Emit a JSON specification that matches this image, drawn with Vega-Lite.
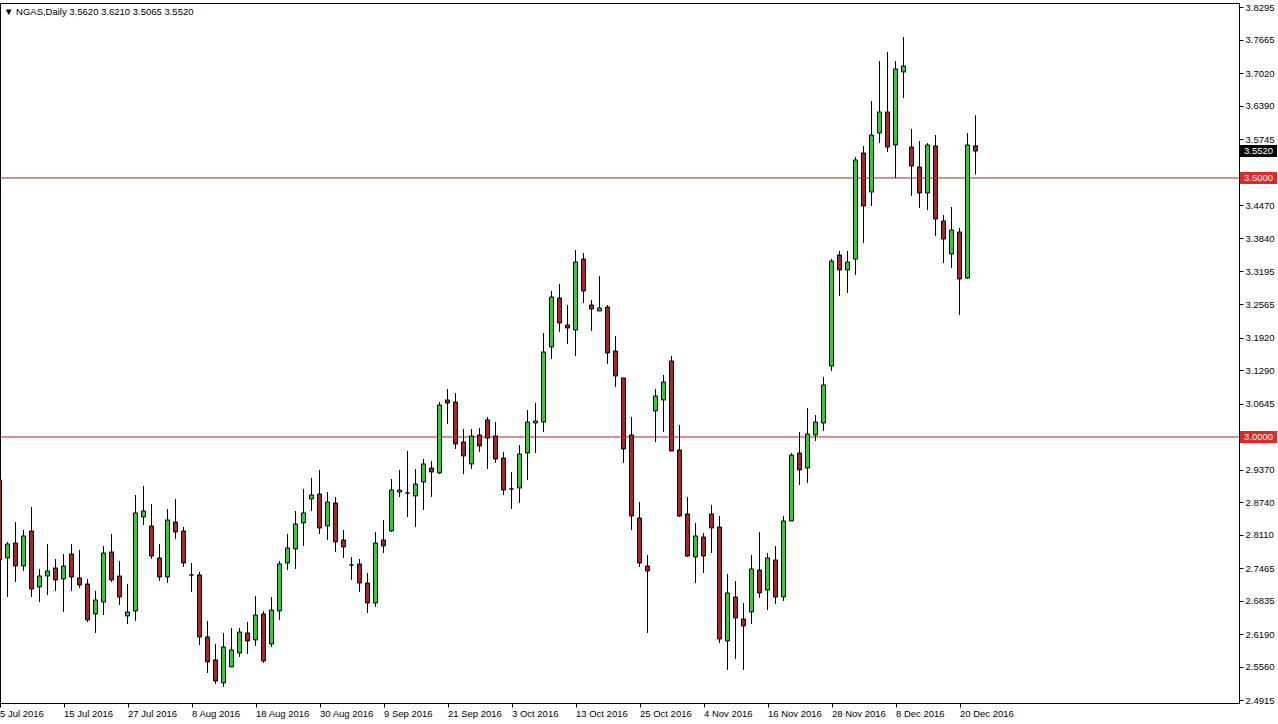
{
"$schema": "https://vega.github.io/schema/vega-lite/v6.json",
"width": 1239, "height": 700,
"autosize": {"type": "none"},
"padding": {"left": 0, "top": 3, "right": 39, "bottom": 21},
"background": "#ffffff",
"config": {"view": {"stroke": "#000000", "strokeWidth": 1}, "font": "Liberation Sans",
  "axis": {"tickColor": "#000000", "domainColor": "#000000", "labelColor": "#000000", "labelFont": "Liberation Sans", "labelFontSize": 9.5, "labelOverlap": false, "labelBound": false, "labelFlush": false, "grid": false, "tickSize": 4, "labelPadding": 2, "zindex": 0}},
"title": {"text": "▼ NGAS,Daily  3.5620 3.6210 3.5065 3.5520", "anchor": "start", "frame": "group", "orient": "top", "offset": -14, "dx": 4, "font": "Liberation Sans", "fontSize": 9.5, "fontWeight": "normal", "color": "#000000"},
"datasets": {
"candles": [
{"date":"2016-07-05","open":2.9170,"high":2.9208,"low":2.7509,"close":2.7625},
{"date":"2016-07-06","open":2.7664,"high":2.7973,"low":2.6911,"close":2.7934},
{"date":"2016-07-07","open":2.7953,"high":2.8359,"low":2.7200,"close":2.7509},
{"date":"2016-07-08","open":2.7509,"high":2.8204,"low":2.7413,"close":2.8089},
{"date":"2016-07-11","open":2.8185,"high":2.8648,"low":2.6911,"close":2.7065},
{"date":"2016-07-12","open":2.7104,"high":2.7452,"low":2.6814,"close":2.7316},
{"date":"2016-07-13","open":2.7316,"high":2.7934,"low":2.6950,"close":2.7413},
{"date":"2016-07-14","open":2.7471,"high":2.7645,"low":2.7027,"close":2.7239},
{"date":"2016-07-15","open":2.7258,"high":2.7741,"low":2.6621,"close":2.7509},
{"date":"2016-07-18","open":2.7741,"high":2.7934,"low":2.7027,"close":2.7297},
{"date":"2016-07-19","open":2.7278,"high":2.7818,"low":2.7085,"close":2.7143},
{"date":"2016-07-20","open":2.7162,"high":2.7258,"low":2.6428,"close":2.6467},
{"date":"2016-07-21","open":2.6583,"high":2.7027,"low":2.6216,"close":2.6853},
{"date":"2016-07-22","open":2.6814,"high":2.7896,"low":2.6563,"close":2.7760},
{"date":"2016-07-25","open":2.7780,"high":2.8127,"low":2.7200,"close":2.7239},
{"date":"2016-07-26","open":2.7316,"high":2.7606,"low":2.6757,"close":2.6911},
{"date":"2016-07-27","open":2.6544,"high":2.7162,"low":2.6390,"close":2.6621},
{"date":"2016-07-28","open":2.6641,"high":2.8880,"low":2.6448,"close":2.8533},
{"date":"2016-07-29","open":2.8455,"high":2.9054,"low":2.8301,"close":2.8571},
{"date":"2016-08-01","open":2.8282,"high":2.8706,"low":2.7645,"close":2.7702},
{"date":"2016-08-02","open":2.7664,"high":2.7934,"low":2.7220,"close":2.7297},
{"date":"2016-08-03","open":2.7297,"high":2.8610,"low":2.7181,"close":2.8397},
{"date":"2016-08-04","open":2.8359,"high":2.8803,"low":2.8031,"close":2.8166},
{"date":"2016-08-05","open":2.8185,"high":2.8262,"low":2.7490,"close":2.7567},
{"date":"2016-08-08","open":2.7336,"high":2.7567,"low":2.7007,"close":2.7336},
{"date":"2016-08-09","open":2.7336,"high":2.7394,"low":2.5984,"close":2.6139},
{"date":"2016-08-10","open":2.6139,"high":2.6448,"low":2.5444,"close":2.5656},
{"date":"2016-08-11","open":2.5695,"high":2.6004,"low":2.5231,"close":2.5289},
{"date":"2016-08-12","open":2.5251,"high":2.6216,"low":2.5174,"close":2.5946},
{"date":"2016-08-15","open":2.5560,"high":2.6313,"low":2.5560,"close":2.5888},
{"date":"2016-08-16","open":2.5830,"high":2.6313,"low":2.5753,"close":2.6235},
{"date":"2016-08-17","open":2.6216,"high":2.6428,"low":2.5810,"close":2.6061},
{"date":"2016-08-18","open":2.6081,"high":2.6930,"low":2.5965,"close":2.6563},
{"date":"2016-08-19","open":2.6583,"high":2.6641,"low":2.5637,"close":2.5675},
{"date":"2016-08-22","open":2.6004,"high":2.6911,"low":2.5946,"close":2.6660},
{"date":"2016-08-23","open":2.6641,"high":2.7606,"low":2.6467,"close":2.7548},
{"date":"2016-08-24","open":2.7567,"high":2.8127,"low":2.7432,"close":2.7857},
{"date":"2016-08-25","open":2.7838,"high":2.8571,"low":2.7452,"close":2.8320},
{"date":"2016-08-26","open":2.8340,"high":2.8996,"low":2.7896,"close":2.8533},
{"date":"2016-08-29","open":2.8803,"high":2.9208,"low":2.8571,"close":2.8880},
{"date":"2016-08-30","open":2.8899,"high":2.9363,"low":2.8127,"close":2.8243},
{"date":"2016-08-31","open":2.8282,"high":2.8938,"low":2.8011,"close":2.8745},
{"date":"2016-09-01","open":2.8726,"high":2.8841,"low":2.7780,"close":2.7973},
{"date":"2016-09-02","open":2.8011,"high":2.8204,"low":2.7664,"close":2.7876},
{"date":"2016-09-05","open":2.7529,"high":2.7683,"low":2.7239,"close":2.7529},
{"date":"2016-09-06","open":2.7548,"high":2.7645,"low":2.7007,"close":2.7181},
{"date":"2016-09-07","open":2.7181,"high":2.7374,"low":2.6602,"close":2.6795},
{"date":"2016-09-08","open":2.6795,"high":2.8166,"low":2.6718,"close":2.7953},
{"date":"2016-09-09","open":2.8011,"high":2.8397,"low":2.7760,"close":2.7896},
{"date":"2016-09-12","open":2.8185,"high":2.9189,"low":2.8166,"close":2.8976},
{"date":"2016-09-13","open":2.8938,"high":2.9363,"low":2.8841,"close":2.8976},
{"date":"2016-09-14","open":2.8919,"high":2.9729,"low":2.8455,"close":2.8919},
{"date":"2016-09-15","open":2.8861,"high":2.9382,"low":2.8262,"close":2.9092},
{"date":"2016-09-16","open":2.9131,"high":2.9575,"low":2.8590,"close":2.9479},
{"date":"2016-09-19","open":2.9401,"high":2.9536,"low":2.8841,"close":2.9324},
{"date":"2016-09-20","open":2.9305,"high":3.0675,"low":2.9285,"close":3.0618},
{"date":"2016-09-21","open":3.0714,"high":3.0926,"low":3.0251,"close":3.0656},
{"date":"2016-09-22","open":3.0675,"high":3.0849,"low":2.9768,"close":2.9865},
{"date":"2016-09-23","open":2.9903,"high":3.0154,"low":2.9285,"close":2.9633},
{"date":"2016-09-26","open":2.9479,"high":3.0154,"low":2.9382,"close":3.0019},
{"date":"2016-09-27","open":3.0038,"high":3.0174,"low":2.9710,"close":2.9826},
{"date":"2016-09-28","open":3.0328,"high":3.0386,"low":2.9382,"close":2.9980},
{"date":"2016-09-29","open":3.0019,"high":3.0289,"low":2.9498,"close":2.9575},
{"date":"2016-09-30","open":2.9594,"high":2.9710,"low":2.8880,"close":2.8976},
{"date":"2016-10-03","open":2.8996,"high":2.9324,"low":2.8610,"close":2.8996},
{"date":"2016-10-04","open":2.9015,"high":2.9845,"low":2.8726,"close":2.9672},
{"date":"2016-10-05","open":2.9691,"high":3.0521,"low":2.9170,"close":3.0289},
{"date":"2016-10-06","open":3.0270,"high":3.0656,"low":2.9691,"close":3.0309},
{"date":"2016-10-07","open":3.0289,"high":3.2007,"low":3.0096,"close":3.1641},
{"date":"2016-10-10","open":3.1737,"high":3.2818,"low":3.1506,"close":3.2702},
{"date":"2016-10-11","open":3.2683,"high":3.2953,"low":3.2027,"close":3.2201},
{"date":"2016-10-12","open":3.2162,"high":3.2548,"low":3.1795,"close":3.2104},
{"date":"2016-10-13","open":3.2065,"high":3.3610,"low":3.1563,"close":3.3378},
{"date":"2016-10-14","open":3.3436,"high":3.3552,"low":3.2587,"close":3.2818},
{"date":"2016-10-17","open":3.2548,"high":3.2645,"low":3.2046,"close":3.2471},
{"date":"2016-10-18","open":3.2432,"high":3.3108,"low":3.2432,"close":3.2490},
{"date":"2016-10-19","open":3.2509,"high":3.2548,"low":3.1409,"close":3.1621},
{"date":"2016-10-20","open":3.1660,"high":3.1950,"low":3.0965,"close":3.1177},
{"date":"2016-10-21","open":3.1139,"high":3.1139,"low":2.9498,"close":2.9768},
{"date":"2016-10-24","open":3.0038,"high":3.0386,"low":2.8204,"close":2.8475},
{"date":"2016-10-25","open":2.8436,"high":2.8745,"low":2.7490,"close":2.7567},
{"date":"2016-10-26","open":2.7509,"high":2.7722,"low":2.6216,"close":2.7413},
{"date":"2016-10-27","open":3.0502,"high":3.0926,"low":2.9903,"close":3.0791},
{"date":"2016-10-28","open":3.0714,"high":3.1197,"low":3.0096,"close":3.1061},
{"date":"2016-10-31","open":3.1467,"high":3.1563,"low":2.9729,"close":2.9729},
{"date":"2016-11-01","open":2.9749,"high":3.0231,"low":2.8455,"close":2.8475},
{"date":"2016-11-02","open":2.8513,"high":2.8841,"low":2.7683,"close":2.7702},
{"date":"2016-11-03","open":2.7683,"high":2.8340,"low":2.7181,"close":2.8089},
{"date":"2016-11-04","open":2.8069,"high":2.8146,"low":2.7374,"close":2.7702},
{"date":"2016-11-07","open":2.8513,"high":2.8687,"low":2.7760,"close":2.8243},
{"date":"2016-11-08","open":2.8262,"high":2.8475,"low":2.6023,"close":2.6100},
{"date":"2016-11-09","open":2.6061,"high":2.7355,"low":2.5502,"close":2.6988},
{"date":"2016-11-10","open":2.6911,"high":2.7220,"low":2.5714,"close":2.6506},
{"date":"2016-11-11","open":2.6486,"high":2.6795,"low":2.5502,"close":2.6351},
{"date":"2016-11-14","open":2.6621,"high":2.7722,"low":2.6390,"close":2.7452},
{"date":"2016-11-15","open":2.7432,"high":2.8166,"low":2.6892,"close":2.6988},
{"date":"2016-11-16","open":2.7046,"high":2.7760,"low":2.6660,"close":2.7664},
{"date":"2016-11-17","open":2.7625,"high":2.7896,"low":2.6776,"close":2.6911},
{"date":"2016-11-18","open":2.6911,"high":2.8475,"low":2.6834,"close":2.8378},
{"date":"2016-11-21","open":2.8378,"high":2.9691,"low":2.8378,"close":2.9652},
{"date":"2016-11-22","open":2.9691,"high":3.0096,"low":2.9073,"close":2.9363},
{"date":"2016-11-23","open":2.9401,"high":3.0560,"low":2.9112,"close":3.0058},
{"date":"2016-11-24","open":3.0038,"high":3.0424,"low":2.9923,"close":3.0289},
{"date":"2016-11-25","open":3.0270,"high":3.1158,"low":3.0116,"close":3.1004},
{"date":"2016-11-28","open":3.1370,"high":3.3436,"low":3.1274,"close":3.3397},
{"date":"2016-11-29","open":3.3513,"high":3.3590,"low":3.2722,"close":3.3224},
{"date":"2016-11-30","open":3.3224,"high":3.3590,"low":3.2780,"close":3.3378},
{"date":"2016-12-01","open":3.3436,"high":3.5405,"low":3.3127,"close":3.5347},
{"date":"2016-12-02","open":3.5482,"high":3.5618,"low":3.3745,"close":3.4459},
{"date":"2016-12-05","open":3.4729,"high":3.6486,"low":3.4459,"close":3.5830},
{"date":"2016-12-06","open":3.5868,"high":3.7258,"low":3.5675,"close":3.6274},
{"date":"2016-12-07","open":3.6274,"high":3.7432,"low":3.5502,"close":3.5598},
{"date":"2016-12-08","open":3.5637,"high":3.7258,"low":3.5000,"close":3.7104},
{"date":"2016-12-09","open":3.7046,"high":3.7722,"low":3.6544,"close":3.7162},
{"date":"2016-12-12","open":3.5598,"high":3.5946,"low":3.4652,"close":3.5231},
{"date":"2016-12-13","open":3.5212,"high":3.5714,"low":3.4421,"close":3.4710},
{"date":"2016-12-14","open":3.4710,"high":3.5675,"low":3.4382,"close":3.5637},
{"date":"2016-12-15","open":3.5618,"high":3.5830,"low":3.3880,"close":3.4208},
{"date":"2016-12-16","open":3.4170,"high":3.4285,"low":3.3359,"close":3.3822},
{"date":"2016-12-19","open":3.3532,"high":3.4440,"low":3.3262,"close":3.3996},
{"date":"2016-12-20","open":3.3957,"high":3.4034,"low":3.2355,"close":3.3050},
{"date":"2016-12-21","open":3.3069,"high":3.5868,"low":3.3050,"close":3.5637},
{"date":"2016-12-22","open":3.5620,"high":3.6210,"low":3.5065,"close":3.5520}
],
"levels": [{"level": 3.5}, {"level": 3.0}],
"tags": [{"price": 3.5520, "kind": "bid"}, {"price": 3.5000, "kind": "line"}, {"price": 3.0000, "kind": "line"}]
},
"layer": [
{"data": {"name": "levels"},
 "mark": {"type": "rule", "color": "#B22222", "strokeWidth": 1},
 "encoding": {"y": {"field": "level", "type": "quantitative", "scale": {"domain": [2.4864, 3.8378], "nice": false, "zero": false},
   "axis": {"orient": "right", "values": [3.8295,3.7665,3.7020,3.6390,3.5745,3.4470,3.3840,3.3195,3.2565,3.1920,3.1290,3.0645,2.9370,2.8740,2.8110,2.7465,2.6835,2.6190,2.5560,2.4915], "format": ".4f", "title": null, "labelAlign": "left", "labelBaseline": "middle"}}}},
{"data": {"name": "candles"},
 "mark": {"type": "rule", "color": "#000000", "strokeWidth": 1},
 "encoding": {
  "x": {"field": "date", "type": "ordinal", "scale": {"type": "point", "range": [-0.5, 975.5], "padding": 0},
   "axis": {"values": ["2016-07-05","2016-07-15","2016-07-27","2016-08-08","2016-08-18","2016-08-30","2016-09-09","2016-09-21","2016-10-03","2016-10-13","2016-10-25","2016-11-04","2016-11-16","2016-11-28","2016-12-08","2016-12-20"],
    "labelExpr": "utcFormat(toDate(datum.value), '%-d %b %Y')", "title": null, "labelAngle": 0, "labelAlign": "left", "labelOffset": 0, "labelPadding": 1}},
  "y": {"field": "low", "type": "quantitative", "scale": {"domain": [2.4864, 3.8378], "nice": false, "zero": false},
   "axis": {"orient": "right", "values": [3.8295,3.7665,3.7020,3.6390,3.5745,3.4470,3.3840,3.3195,3.2565,3.1920,3.1290,3.0645,2.9370,2.8740,2.8110,2.7465,2.6835,2.6190,2.5560,2.4915], "format": ".4f", "title": null, "labelAlign": "left", "labelBaseline": "middle"}},
  "y2": {"field": "high"}}},
{"data": {"name": "candles"},
 "mark": {"type": "bar", "width": 4, "stroke": "#000000", "strokeWidth": 1},
 "encoding": {
  "x": {"field": "date", "type": "ordinal", "scale": {"type": "point", "range": [-0.5, 975.5], "padding": 0},
   "axis": {"values": ["2016-07-05","2016-07-15","2016-07-27","2016-08-08","2016-08-18","2016-08-30","2016-09-09","2016-09-21","2016-10-03","2016-10-13","2016-10-25","2016-11-04","2016-11-16","2016-11-28","2016-12-08","2016-12-20"],
    "labelExpr": "utcFormat(toDate(datum.value), '%-d %b %Y')", "title": null, "labelAngle": 0, "labelAlign": "left", "labelOffset": 0, "labelPadding": 1}},
  "y": {"field": "open", "type": "quantitative", "scale": {"domain": [2.4864, 3.8378], "nice": false, "zero": false},
   "axis": {"orient": "right", "values": [3.8295,3.7665,3.7020,3.6390,3.5745,3.4470,3.3840,3.3195,3.2565,3.1920,3.1290,3.0645,2.9370,2.8740,2.8110,2.7465,2.6835,2.6190,2.5560,2.4915], "format": ".4f", "title": null, "labelAlign": "left", "labelBaseline": "middle"}},
  "y2": {"field": "close"},
  "fill": {"condition": {"test": "datum.close >= datum.open", "value": "#32CD32"}, "value": "#B22222"}}},
{"data": {"name": "tags"},
 "mark": {"type": "rect", "xOffset": 1, "x2Offset": 38, "yOffset": -6, "y2Offset": 6},
 "encoding": {
  "x": {"value": "width"}, "x2": {"value": "width"},
  "y": {"field": "price", "type": "quantitative", "scale": {"domain": [2.4864, 3.8378], "nice": false, "zero": false},
   "axis": {"orient": "right", "values": [3.8295,3.7665,3.7020,3.6390,3.5745,3.4470,3.3840,3.3195,3.2565,3.1920,3.1290,3.0645,2.9370,2.8740,2.8110,2.7465,2.6835,2.6190,2.5560,2.4915], "format": ".4f", "title": null, "labelAlign": "left", "labelBaseline": "middle"}},
  "y2": {"field": "price"},
  "fill": {"field": "kind", "type": "nominal", "scale": {"domain": ["bid", "line"], "range": ["#000000", "#E02828"]}, "legend": null}}},
{"data": {"name": "tags"},
 "mark": {"type": "text", "align": "left", "baseline": "middle", "dx": 5, "font": "Liberation Sans", "fontSize": 9.5, "color": "#ffffff"},
 "encoding": {
  "x": {"value": "width"},
  "y": {"field": "price", "type": "quantitative", "scale": {"domain": [2.4864, 3.8378], "nice": false, "zero": false},
   "axis": {"orient": "right", "values": [3.8295,3.7665,3.7020,3.6390,3.5745,3.4470,3.3840,3.3195,3.2565,3.1920,3.1290,3.0645,2.9370,2.8740,2.8110,2.7465,2.6835,2.6190,2.5560,2.4915], "format": ".4f", "title": null, "labelAlign": "left", "labelBaseline": "middle"}},
  "text": {"field": "price", "type": "quantitative", "format": ".4f"}}}
]
}
